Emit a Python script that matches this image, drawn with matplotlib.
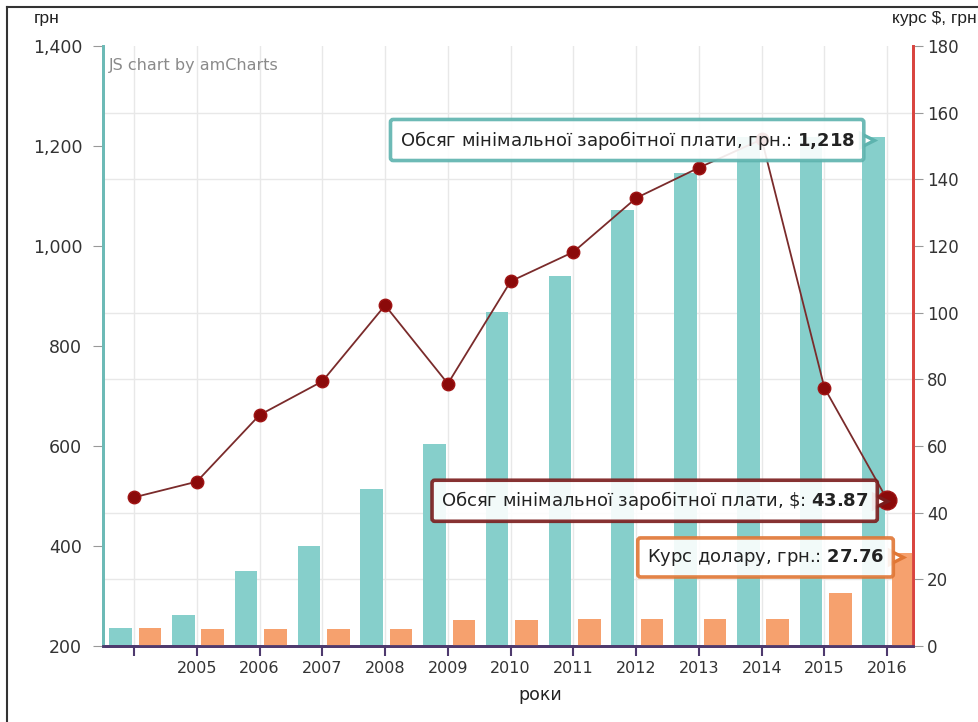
import matplotlib
matplotlib.use("Agg")
import matplotlib.pyplot as plt
from matplotlib.lines import Line2D
from matplotlib.transforms import offset_copy
import numpy as np

plt.rcParams['font.family'] = ['DejaVu Sans']

# data
years = ['', '2005', '2006', '2007', '2008', '2009', '2010',
         '2011', '2012', '2013', '2014', '2015', '2016']
wage_uah = [237, 262, 350, 400, 515, 605, 869, 941, 1073, 1147, 1218, 1218, 1218]
usd_rate = [5.3, 5.12, 5.05, 5.05, 5.05, 7.7, 7.93, 7.96, 7.99, 7.99, 7.99, 15.8, 27.76]
wage_usd = [44.6, 49.3, 69.3, 79.4, 102.2, 78.7, 109.4, 118.2, 134.4, 143.5, 152.0, 77.4, 43.87]

left_ticks = [200, 400, 600, 800, 1000, 1200, 1400]
right_ticks = [0, 20, 40, 60, 80, 100, 120, 140, 160, 180]

teal = '#86cfcb'
orange = '#f6a16e'
darkred = '#8b0a0a'
txt = '#333333'

W, H = 979, 722
fig = plt.figure(figsize=(W / 100, H / 100), dpi=100)
ax = fig.add_axes([103 / W, 1 - 646 / H, 810 / W, 600 / H])
ax2 = ax.twinx()

x = np.arange(len(years))
bw = 0.36

ax.bar(x - 0.215, wage_uah, width=bw, color=teal, zorder=2)
ax.set_ylim(200, 1400)
ax.set_xlim(-0.494, 12.41)
ax.set_yticks(left_ticks)
ax.set_yticklabels([f'{v:,}' for v in left_ticks])
ax.set_xticks(x)
ax.set_xticklabels(years)

# horizontal grid follows the right axis
ax.set_yticks(np.linspace(200, 1400, len(right_ticks)), minor=True)
ax.grid(True, which='minor', axis='y', color='#e8e8e8', lw=1, zorder=0)
ax.grid(True, which='major', axis='x', color='#e8e8e8', lw=1, zorder=0)
ax.tick_params(axis='y', which='minor', length=0)
ax.tick_params(axis='y', which='major', length=7, color='#999999', labelsize=12.5,
               labelcolor=txt, pad=8)
ax.tick_params(axis='x', length=7, width=1.5, color='#4e3a6e', labelsize=11.5,
               labelcolor=txt, pad=4)

ax2.bar(x + 0.255, usd_rate, width=bw, color=orange, zorder=2)
ax2.plot(x, wage_usd, color='#7a2b2b', lw=1.3, marker='o', ms=9,
         mfc=darkred, mec='#a01515', mew=1, zorder=3)
ax2.plot(x[-1], wage_usd[-1], 'o', ms=13.5, mfc=darkred, mec='#a01515', zorder=4)
ax2.set_ylim(0, 180)
ax2.set_yticks(right_ticks)
ax2.tick_params(axis='y', length=7, color='#999999', labelsize=12,
                labelcolor=txt, pad=3)

for a in (ax, ax2):
    a.spines['top'].set_visible(False)
    a.spines['left'].set_color('#6cbab6')
    a.spines['left'].set_linewidth(2)
    a.spines['right'].set_color('#d9443f')
    a.spines['right'].set_linewidth(2)
    a.spines['bottom'].set_color('#4e3a6e')
    a.spines['bottom'].set_linewidth(2)

ax.text(0.007, 0.968, 'JS chart by amCharts', transform=ax.transAxes,
        color='#8a8a8a', fontsize=11.5, va='center', ha='left')


def balloon(xy, trans, label, value, edge, dy=0):
    kw = dict(xycoords=trans, textcoords='offset pixels', ha='right', va='center',
              fontsize=13, color='#222222', zorder=10,
              bbox=dict(boxstyle='round,pad=0.5,rounding_size=0.15', fc='white',
                        ec=edge, lw=2.6, alpha=0.9))
    ax2.annotate(label + ' $\\mathbf{' + value + '}$', xy=xy,
                 xytext=(-19, dy), **kw)
    tr = offset_copy(trans, fig=fig, x=-7, y=dy, units='dots')
    ax2.plot([xy[0]], [xy[1]], marker='>', ms=10, mfc='white', mec=edge, mew=2.4,
             transform=tr, zorder=9, clip_on=False)


balloon((x[-1] - 0.215, wage_uah[-1]), ax.transData,
        'Обсяг мінімальної заробітної плати, грн.:', '1{,}218', '#5db3ae', dy=-3)
balloon((x[-1], wage_usd[-1]), ax2.transData,
        'Обсяг мінімальної заробітної плати, \\$:', '43.87', '#7a1c1c', dy=-1)
balloon((x[-1] + 0.255, usd_rate[-1]), ax2.transData,
        'Курс долару, грн.:', '27.76', '#e07634', dy=-4)

fig.text(47 / W, 1 - 18 / H, 'грн', ha='center', va='center', fontsize=12.5,
         family='Liberation Sans', color='#222222')
fig.text(977 / W, 1 - 18 / H, 'курс $, грн', ha='right', va='center', fontsize=12.5,
         family='Liberation Sans', color='#222222')
fig.text(540 / W, 1 - 695 / H, 'роки', ha='center', va='center', fontsize=12.5,
         color='#222222')

fig.add_artist(Line2D([7 / W, 1], [1 - 7 / H, 1 - 7 / H], color='#333333', lw=1.5))
fig.add_artist(Line2D([7 / W, 7 / W], [0, 1 - 7 / H], color='#333333', lw=1.5))

fig.savefig('out.png', dpi=100)
